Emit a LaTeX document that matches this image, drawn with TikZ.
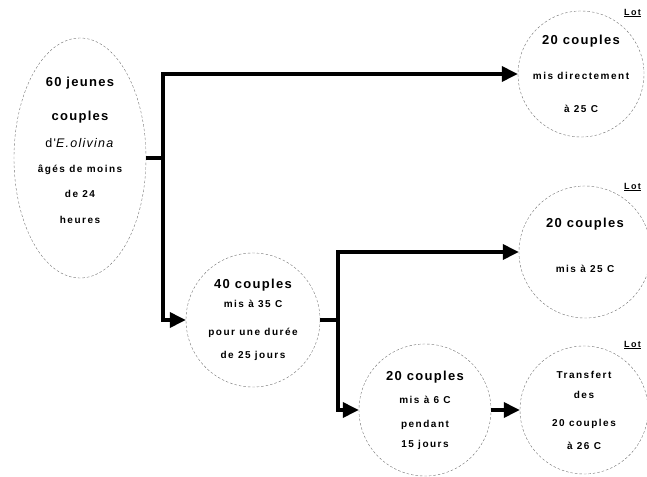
\documentclass[tikz,border=0pt]{standalone}
\usepackage{fontspec}
\setmainfont{Liberation Sans}
\newfontfamily\largeespace[LetterSpace=10]{Liberation Sans}
\newfontfamily\petitespace[LetterSpace=15]{Liberation Sans}
\usetikzlibrary{positioning,shapes.geometric,arrows.meta}

\newcommand{\gros}[1]{{\largeespace\bfseries\fontsize{13}{15}\selectfont #1}}
\newcommand{\menu}[1]{{\petitespace\bfseries\fontsize{10}{12}\selectfont #1}}

\begin{document}
\begin{tikzpicture}[x=1pt, y=-1pt,
		lot/.style={circle, draw=black!55, thin, dash pattern=on 2.5pt off 2pt, inner sep=0pt, align=center, font=\fontsize{10}{12}\selectfont},
		souche/.style={ellipse, draw=black!55, thin, dash pattern=on 2.5pt off 2pt, minimum width=132pt, minimum height=240pt, inner sep=0pt, align=center, font=\fontsize{10}{12}\selectfont},
		flux/.style={line width=3.5pt, -{Triangle[length=16pt,width=15pt]}},
		etiquette/.style={inner sep=0pt, anchor=west, font=\petitespace\bfseries\fontsize{9}{10}\selectfont}
	]
	\useasboundingbox (0,0) rectangle (647,476);
	\node[souche] (jeunes) at (80,158) {\gros{60 jeunes}\\[21pt]
		\gros{couples}\\[15pt]
		{\largeespace\fontsize{12.5}{14}\selectfont d'\textit{E.olivina}}\\[13pt]
		\menu{âgés de moins}\\[13pt]
		\menu{de 24}\\[14pt]
		\menu{heures}\\[4pt]
		\mbox{}};
	\node[lot, minimum size=126pt] (lotA) at (581,74) {\gros{20 couples}\\[23pt]
		\menu{mis directement}\\[21pt]
		\menu{à 25 C}};
	\node[lot, minimum size=132pt] (lotB) at (585,252) {\gros{20 couples}\\[33pt]
		\menu{mis à 25 C}\\[2pt]
		\mbox{}};
	\node[lot, minimum size=128pt] (lotC) at (584,410) {\menu{Transfert}\\[8pt]
		\menu{des}\\[16pt]
		\menu{20 couples}\\[11pt]
		\menu{à 26 C}};
	\node[lot, minimum size=134pt] (chaud) at (253,320) {\gros{40 couples}\\[7pt]
		\menu{mis à 35 C}\\[16pt]
		\menu{pour une durée}\\[11pt]
		\menu{de 25 jours}};
	\node[lot, minimum size=132pt] (froid) at (425,410) {\gros{20 couples}\\[11pt]
		\menu{mis à 6 C}\\[12pt]
		\menu{pendant}\\[8pt]
		\menu{15 jours}};
	\node[etiquette] (numA) at (624,13) {\underline{Lot}};
	\node[etiquette] (numB) at (624,187) {\underline{Lot}};
	\node[etiquette] (numC) at (624,345) {\underline{Lot}};
	\coordinate (brancheA) at ([xshift=17pt]jeunes.east);
	\coordinate (brancheB) at ([xshift=18pt]chaud.east);
	\draw[flux] (jeunes.east) -- (brancheA) |- (lotA.west);
	\draw[flux] (brancheA) |- (chaud.west);
	\draw[flux] (chaud.east) -- (brancheB) |- (lotB.west);
	\draw[flux] (brancheB) |- (froid.west);
	\draw[flux] (froid.east) -- (lotC.west);
\end{tikzpicture}
\end{document}
